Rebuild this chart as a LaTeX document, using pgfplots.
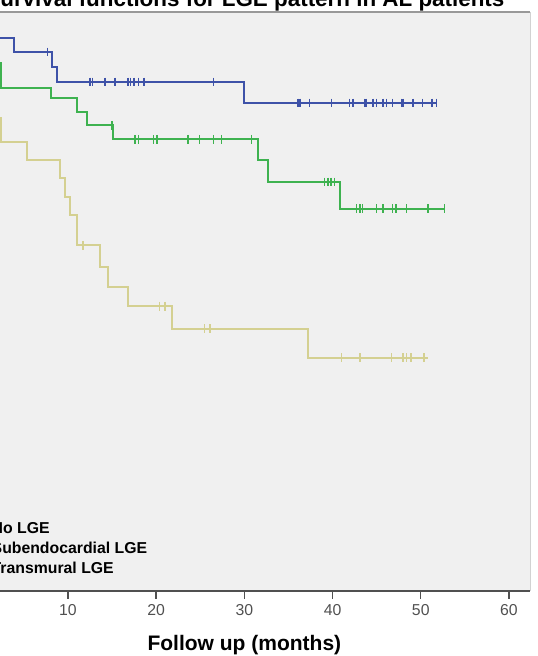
\documentclass[border=0pt]{standalone}
\usepackage{fontspec}
\setmainfont{Liberation Sans}
\usepackage{pgfplots}
\pgfplotsset{compat=1.18}
\definecolor{bgc}{RGB}{240,240,240}
\definecolor{cblue}{RGB}{62,82,168}
\definecolor{cgreen}{RGB}{62,178,80}
\definecolor{cyel}{RGB}{212,208,145}
\definecolor{axc}{RGB}{80,80,80}
\begin{document}
\begin{tikzpicture}
\useasboundingbox (0,0) rectangle (268.5pt,328pt);
\clip (0,0) rectangle (268.5pt,328pt);
\begin{axis}[
  at={(-20.7pt,32.5pt)}, anchor=south west,
  scale only axis, width=285.75pt, height=289.5pt,
  xmin=-2.4, xmax=62.4, ymin=-0.05, ymax=1.05,
  clip=false,
  axis background/.style={fill=bgc},
  axis line style={draw=none},
  xtick={0,10,...,60}, ytick={0,0.2,...,1.0},
  xtick pos=bottom, ytick pos=left,
  tick align=outside, major tick length=4pt,
  tick style={axc, line width=0.7pt},
  /pgf/number format/assume math mode=true,
  ticklabel style={font=\fontsize{7.9}{9}\selectfont, text=axc},
  xticklabel style={anchor=base, yshift=-8pt},
  xlabel={Follow up (months)},
  xlabel style={font=\fontsize{10.5}{12}\selectfont\bfseries, at={(axis description cs:0.5,0)}, anchor=base, yshift=-30pt},
  ylabel={Cum Survival},
  legend style={draw=none, fill=none, at={(axis description cs:-0.0235,0.071)}, anchor=west,
    font=\fontsize{7.9}{9}\selectfont\bfseries, row sep=-1.2pt},
  legend cell align=left,
]
% survival curves (step functions)
\addplot[const plot, cblue, line width=1pt] coordinates {
  (0,1.0) (3.9,0.974) (8.2,0.945) (8.8,0.917) (30.0,0.877) (51.8,0.877)};
\addlegendentry{No LGE}
\addplot[const plot, cgreen, line width=1pt] coordinates {
  (0,1.0) (0.8,0.954) (2.4,0.905) (8.1,0.886) (11.0,0.860) (12.2,0.835)
  (15.1,0.808) (31.5,0.768) (32.7,0.727) (40.8,0.676) (52.8,0.676)};
\addlegendentry{Subendocardial LGE}
\addplot[const plot, cyel, line width=1pt] coordinates {
  (0,1.0) (0.7,0.94) (1.5,0.89) (2.0,0.849) (2.4,0.803) (5.3,0.768)
  (9.1,0.734) (9.65,0.698) (10.2,0.664) (11.0,0.607) (13.6,0.565)
  (14.5,0.528) (16.8,0.491) (21.8,0.448) (37.2,0.393) (50.8,0.393)};
\addlegendentry{Transmural LGE}
% censored observations
\addplot[only marks, mark=|, mark size=2.2pt, cblue, mark options={line width=0.8pt}, forget plot] coordinates {
  (7.7,0.974)
  (12.5,0.917) (12.8,0.917) (14.2,0.917) (15.3,0.917) (16.8,0.917) (17.1,0.917)
  (17.5,0.917) (18.0,0.917) (18.6,0.917) (26.5,0.917)
  (36.1,0.877) (36.3,0.877) (37.4,0.877) (39.9,0.877) (41.9,0.877) (42.3,0.877)
  (43.6,0.877) (43.8,0.877) (44.6,0.877) (45.0,0.877) (45.7,0.877) (46.1,0.877)
  (46.8,0.877) (47.8,0.877) (48.0,0.877) (49.1,0.877) (50.2,0.877) (51.3,0.877) (51.8,0.877)};
\addplot[only marks, mark=|, mark size=2.2pt, cgreen, mark options={line width=0.8pt}, forget plot] coordinates {
  (15.0,0.835)
  (17.6,0.808) (18.0,0.808) (19.7,0.808) (20.1,0.808) (23.6,0.808) (24.9,0.808)
  (26.5,0.808) (27.4,0.808) (30.8,0.808)
  (39.1,0.727) (39.5,0.727) (39.8,0.727) (40.2,0.727)
  (42.7,0.676) (43.1,0.676) (43.4,0.676) (45.0,0.676) (45.7,0.676) (46.8,0.676)
  (47.2,0.676) (48.4,0.676) (50.8,0.676) (52.7,0.676)};
\addplot[only marks, mark=|, mark size=2.2pt, cyel, mark options={line width=0.8pt}, forget plot] coordinates {
  (11.7,0.607)
  (20.4,0.491) (21.0,0.491)
  (25.5,0.448) (26.1,0.448)
  (41.0,0.393) (43.1,0.393) (46.7,0.393) (48.0,0.393) (48.4,0.393) (48.9,0.393) (50.4,0.393)};
% frame
\draw[color=gray!80, line width=0.9pt] (rel axis cs:0,1) -- (rel axis cs:1,1);
\draw[color=gray!35, line width=0.5pt] (rel axis cs:1,0) -- (rel axis cs:1,1);
\draw[color=axc, line width=1pt] (rel axis cs:0,0) -- (rel axis cs:1,0);
\end{axis}
\node[anchor=base west, font=\fontsize{11.2}{13}\selectfont\bfseries, inner sep=0pt] at (-7.5pt,324.8pt)
  {Survival functions for LGE pattern in AL patients};
\end{tikzpicture}
\end{document}
